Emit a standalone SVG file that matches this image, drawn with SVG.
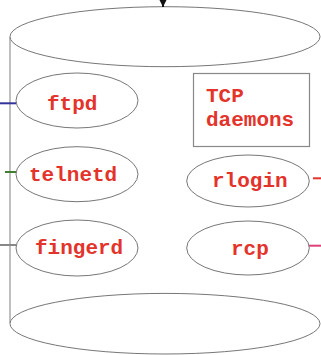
<svg xmlns="http://www.w3.org/2000/svg" width="321" height="355" viewBox="0 0 321 355">
<defs>
<style>
.cyl{fill:#fff;stroke:#777;stroke-width:1}
.side{stroke:#aaa;stroke-width:1.5;fill:none}
.node ellipse{fill:#fff;stroke:#777;stroke-width:1}
.node rect{fill:#fff;stroke:#888;stroke-width:1.2}
.lbl{font-family:"Liberation Mono","Courier New",monospace;font-weight:bold;font-size:21px;fill:#e3332b}
.conn line{stroke-width:2}
</style>
<marker id="ah" markerWidth="8" markerHeight="8" refX="7" refY="3.5" orient="auto" markerUnits="userSpaceOnUse">
<path d="M0,0 L7,3.5 L0,7 Z" fill="#111"/>
</marker>
</defs>
<rect width="321" height="355" fill="#fff"/>
<g id="cylinder">
<line class="side" x1="10" y1="37" x2="10" y2="323"/>
<ellipse class="cyl" cx="165" cy="323.7" rx="155" ry="30.3"/>
<ellipse class="cyl" cx="165" cy="36.7" rx="155" ry="30"/>
</g>
<g id="connectors" class="conn">
<line x1="163" y1="-2" x2="163" y2="7" stroke="#111" stroke-width="2" marker-end="url(#ah)"/>
<line x1="0" y1="103.3" x2="16" y2="103.3" stroke="#333399"/>
<line x1="5" y1="172" x2="16" y2="172" stroke="#3f7f2f"/>
<line x1="0" y1="245" x2="16" y2="245" stroke="#888"/>
<line x1="313" y1="178.3" x2="321" y2="178.3" stroke="#e3332b"/>
<line x1="309" y1="245.7" x2="321" y2="245.7" stroke="#e0407a"/>
</g>
<g id="ftpd" class="node">
<ellipse cx="77" cy="100.5" rx="61" ry="27.5"/>
<text class="lbl" x="47" y="109.5">ftpd</text>
</g>
<g id="telnetd" class="node">
<ellipse cx="77" cy="174.2" rx="61" ry="27.5"/>
<text class="lbl" x="29" y="180.5">telnetd</text>
</g>
<g id="fingerd" class="node">
<ellipse cx="77" cy="248" rx="61" ry="28"/>
<text class="lbl" x="35" y="253.5">fingerd</text>
</g>
<g id="tcp-daemons" class="node">
<rect x="193.5" y="73.5" width="116" height="73"/>
<text class="lbl" x="206" y="101.5">TCP</text>
<text class="lbl" x="206" y="125.5">daemons</text>
</g>
<g id="rlogin" class="node">
<ellipse cx="248" cy="181" rx="61.3" ry="26"/>
<text class="lbl" x="212" y="187">rlogin</text>
</g>
<g id="rcp" class="node">
<ellipse cx="248" cy="248" rx="61.3" ry="27"/>
<text class="lbl" x="231" y="255">rcp</text>
</g>
</svg>
